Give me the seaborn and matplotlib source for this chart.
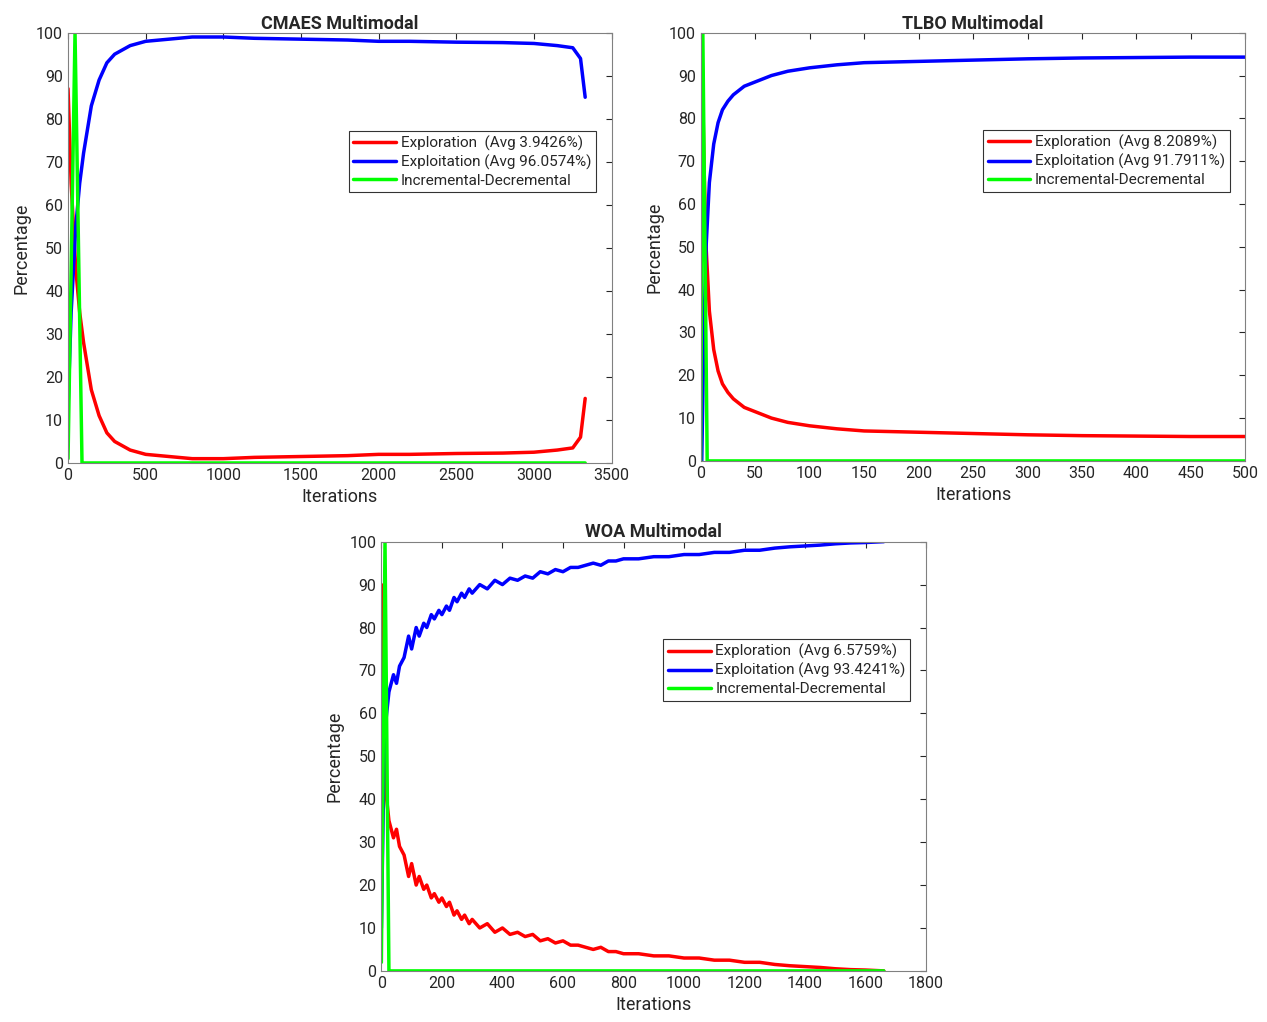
import numpy as np
import pandas as pd
import matplotlib
matplotlib.use('Agg')
import matplotlib.pyplot as plt
import seaborn as sns

sns.set_style('white')
plt.rcParams['font.family'] = ['Roboto', 'DejaVu Sans']

# CMAES
cmaes_x = [0, 20, 50, 75, 100, 150, 200, 250, 300, 400, 500, 650, 800, 1000, 1200, 1500, 1800, 2000, 2200, 2500, 2800, 3000, 3150, 3250, 3300, 3330]
cmaes_expl = [87, 65, 45, 35, 28, 17, 11, 7, 5, 3, 2, 1.5, 1, 1, 1.3, 1.5, 1.7, 2, 2, 2.2, 2.3, 2.5, 3, 3.5, 6, 15]
cmaes_inc_x = [0, 45, 90, 3330]
cmaes_inc = [1, 100, 0, 0]

# TLBO
tlbo_x = [1, 3, 5, 8, 12, 16, 20, 25, 30, 40, 50, 65, 80, 100, 125, 150, 200, 250, 300, 350, 400, 450, 500]
tlbo_expl = [100, 70, 50, 35, 26, 21, 18, 16, 14.5, 12.5, 11.5, 10, 9, 8.2, 7.5, 7, 6.7, 6.4, 6.1, 5.9, 5.8, 5.7, 5.7]
tlbo_inc_x = [0, 2, 6, 500]
tlbo_inc = [0, 100, 0, 0]

# WOA
woa_x = [0, 10, 25, 40, 50, 60, 75, 90, 100, 115, 125, 140, 150, 165, 175, 190, 200, 215, 225, 240,
         250, 265, 275, 290, 300, 325, 350, 375, 400, 425, 450, 475, 500, 525, 550, 575, 600, 625,
         650, 675, 700, 725, 750, 775, 800, 850, 900, 950, 1000, 1050, 1100, 1150, 1200, 1250,
         1300, 1350, 1400, 1450, 1500, 1550, 1600, 1660]
woa_expl = [90, 45, 35, 31, 33, 29, 27, 22, 25, 20, 22, 19, 20, 17, 18, 16, 17, 15, 16, 13,
            14, 12, 13, 11, 12, 10, 11, 9, 10, 8.5, 9, 8, 8.5, 7, 7.5, 6.5, 7, 6,
            6, 5.5, 5, 5.5, 4.5, 4.5, 4, 4, 3.5, 3.5, 3, 3, 2.5, 2.5, 2, 2,
            1.5, 1.2, 1, 0.8, 0.5, 0.3, 0.2, 0]
woa_inc_x = [0, 12, 25, 1660]
woa_inc = [2, 100, 0, 0]

panels = [
    ('CMAES Multimodal', cmaes_x, cmaes_expl, cmaes_inc_x, cmaes_inc, '3.9426', '96.0574',
     [0.0537, 0.547, 0.429, 0.421], (0, 3500), np.arange(0, 3501, 500)),
    ('TLBO Multimodal', tlbo_x, tlbo_expl, tlbo_inc_x, tlbo_inc, '8.2089', '91.7911',
     [0.553, 0.549, 0.430, 0.419], (0, 500), np.arange(0, 501, 50)),
    ('WOA Multimodal', woa_x, woa_expl, woa_inc_x, woa_inc, '6.5759', '93.4241',
     [0.301, 0.050, 0.430, 0.420], (0, 1800), np.arange(0, 1801, 200)),
]

fig = plt.figure(figsize=(12.67, 10.22), dpi=100)
for title, x, expl, ix, inc, a1, a2, pos, xlim, xt in panels:
    ax = fig.add_axes(pos)
    expl = np.array(expl, dtype=float)
    df = pd.DataFrame({'x': x, 'expl': expl, 'expt': 100 - expl})
    sns.lineplot(data=df, x='x', y='expl', ax=ax, color='#ff0000', lw=2.5,
                 label=f'Exploration  (Avg {a1}%)', sort=False)
    sns.lineplot(data=df, x='x', y='expt', ax=ax, color='#0000ff', lw=2.5,
                 label=f'Exploitation (Avg {a2}%)', sort=False)
    sns.lineplot(x=ix, y=inc, ax=ax, color='#00ff00', lw=2.5,
                 label='Incremental-Decremental', sort=False)
    ax.set_xlim(*xlim)
    ax.set_ylim(0, 100)
    ax.set_xticks(xt)
    ax.set_yticks(np.arange(0, 101, 10))
    ax.tick_params(direction='in', length=4, labelsize=11.5, top=True, right=True,
                   labeltop=False, labelright=False)
    for s in ax.spines.values():
        s.set_color('#808080')
    ax.set_title(title, fontsize=13, fontweight='bold', pad=3)
    ax.set_xlabel('Iterations', fontsize=13)
    ax.set_ylabel('Percentage', fontsize=13)
    leg = ax.legend(loc='upper right', bbox_to_anchor=(0.985, 0.79), fontsize=11,
                    frameon=True, fancybox=False, edgecolor='black', borderpad=0.3,
                    labelspacing=0.25, handlelength=2.8, handletextpad=0.3)
    leg.get_frame().set_linewidth(0.8)

fig.savefig('out.png', dpi=100, facecolor='white')
